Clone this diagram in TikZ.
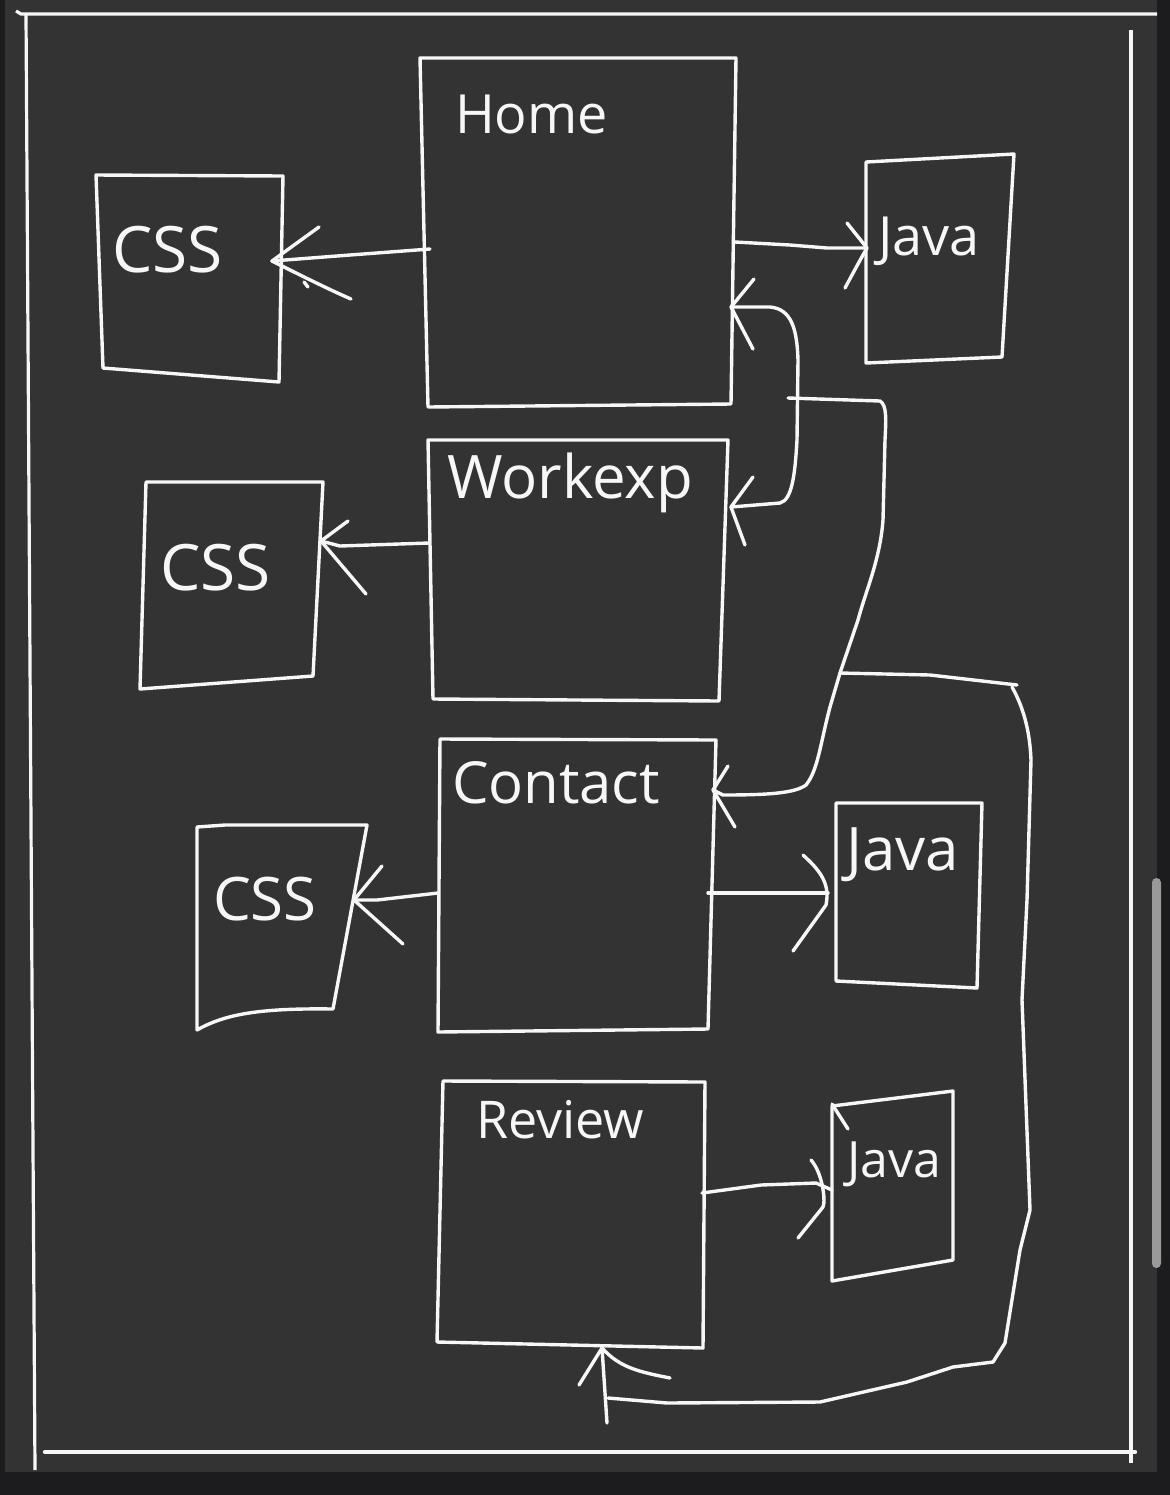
\documentclass[tikz,border=0pt]{standalone}
\usepackage{fontspec}
\setmainfont{Open Sans}
\definecolor{outerbg}{HTML}{1C1C1E}
\definecolor{panelbg}{HTML}{333333}
\definecolor{ink}{HTML}{F7F7F7}
\definecolor{scrollc}{HTML}{9A9A9A}
\begin{document}
\begin{tikzpicture}[x=0.5pt,y=-0.5pt,
  pen/.style={draw=ink, line width=1.7pt, line cap=round, line join=round},
  framepen/.style={draw=ink, line width=1.6pt},
  lbl/.style={text=ink, anchor=base west, inner sep=0pt, outer sep=0pt}]
% background
\fill[outerbg] (0,0) rectangle (1170,1495);
\fill[panelbg] (5,0) rectangle (1157,1472);
\useasboundingbox (0,0) rectangle (1170,1495);
\fill[scrollc, rounded corners=2.2pt] (1152,878) rectangle (1161,1268);
% frame
\draw[framepen] (16,11) -- (21,14) -- (1157,14);
\draw[framepen] (26,14) -- (35,1470);
\draw[framepen] (1131,30) -- (1131,1463);
\draw[draw=ink, line width=2.2pt, line cap=round] (45,1452) -- (1135,1452);

% ---- box corners ----
\coordinate (hA) at (420,58);  \coordinate (hB) at (736,58);  \coordinate (hC) at (731,404);  \coordinate (hD) at (428,407);
\coordinate (c1A) at (96,175); \coordinate (c1B) at (283,176); \coordinate (c1C) at (279,382); \coordinate (c1D) at (103,368);
\coordinate (j1A) at (866,162);\coordinate (j1B) at (1014,154);\coordinate (j1C) at (1002,357);\coordinate (j1D) at (866,363);
\coordinate (wA) at (428,440); \coordinate (wB) at (728,440); \coordinate (wC) at (719,701); \coordinate (wD) at (433,699);
\coordinate (c2A) at (146,482);\coordinate (c2B) at (323,482); \coordinate (c2C) at (313,676); \coordinate (c2D) at (140,689);
\coordinate (kA) at (440,739); \coordinate (kB) at (716,740); \coordinate (kC) at (708,1029); \coordinate (kD) at (438,1032);
\coordinate (c3A) at (197,827);\coordinate (c3B) at (367,825); \coordinate (c3C) at (333,1009); \coordinate (c3D) at (197,1030);
\coordinate (j2A) at (836,803);\coordinate (j2B) at (982,803); \coordinate (j2C) at (977,988); \coordinate (j2D) at (836,981);
\coordinate (rA) at (443,1081);\coordinate (rB) at (705,1082); \coordinate (rC) at (703,1348); \coordinate (rD) at (437,1342);
\coordinate (j3A) at (832,1106);\coordinate (j3B) at (953,1091);\coordinate (j3C) at (953,1260);\coordinate (j3D) at (832,1281);

% ---- boxes ----
\draw[pen] (hA) -- (hB) -- (hC) -- (hD) -- cycle;
\draw[pen] (c1A) -- (c1B) -- (c1C) -- (c1D) -- cycle;
\draw[pen] (j1A) -- (j1B) -- (j1C) -- (j1D) -- cycle;
\draw[pen] (wA) -- (wB) -- (wC) -- (wD) -- cycle;
\draw[pen] (c2A) -- (c2B) -- (c2C) -- (c2D) -- cycle;
\draw[pen] (kA) -- (kB) -- (kC) -- (kD) -- cycle;
\draw[pen] (c3A) -- (225,825) -- (c3B) -- (c3C) .. controls (260,1008) and (225,1014) .. (c3D) -- cycle;
\draw[pen] (j2A) -- (j2B) -- (j2C) -- (j2D) -- cycle;
\draw[pen] (rA) -- (rB) -- (rC) -- (rD) -- cycle;
\draw[pen] (j3A) -- (j3B) -- (j3C) -- (j3D) -- cycle;
\draw[pen] (j3A) ++(0,-2) -- (848,1129);

% ---- labels ----
\node[lbl, font=\fontsize{27}{27}\selectfont] (homeT) at (455,133) {Home};
\node[lbl, font=\fontsize{32}{32}\selectfont] (css1T) at (112,272) {CSS};
\node[lbl, font=\fontsize{27}{27}\selectfont] (java1T) at (878,255) {Java};
\node[lbl, font=\fontsize{30}{30}\selectfont] (workT) at (447,498) {Workexp};
\node[lbl, font=\fontsize{32}{32}\selectfont] (css2T) at (160,590) {CSS};
\node[lbl, font=\fontsize{29}{29}\selectfont] (contT) at (452,803) {Contact};
\node[lbl, font=\fontsize{30}{30}\selectfont] (css3T) at (213,920) {CSS};
\node[lbl, font=\fontsize{30}{30}\selectfont] (java2T) at (846,870) {Java};
\node[lbl, font=\fontsize{26}{26}\selectfont] (revT) at (476,1138) {Review};
\node[lbl, font=\fontsize{25}{25}\selectfont] (java3T) at (847,1177) {Java};

% ---- connector end points ----
\coordinate (homeW) at (430,249);   \coordinate (css1E) at (272,261);
\coordinate (homeE) at (735,242);   \coordinate (java1W) at (867,248);
\coordinate (homeE2) at (731,307);  \coordinate (workE) at (731,507);
\coordinate (stubA) at (788,398);   \coordinate (contE) at (713,790);
\coordinate (junc) at (840,673);    \coordinate (loopEnd) at (608,1398);
\coordinate (tailR) at (607,1423);  \coordinate (revS) at (602,1348);
\coordinate (workW) at (429,543);   \coordinate (css2E) at (321,541);
\coordinate (contW) at (438,893);   \coordinate (css3E) at (354,900);
\coordinate (contE2) at (708,893);  \coordinate (java2W) at (828,893);
\coordinate (revE) at (702,1193);   \coordinate (java3W) at (832,1190);

% 1 Home -> CSS
\draw[pen] (homeW) -- (350,255) -- (css1E);
\draw[pen] (319,227) -- (css1E) .. controls (300,275) and (330,290) .. (351,299);
\draw[pen] (304,282) -- (308,287);
% 2 Home -> Java
\draw[pen] (homeE) -- (790,245) -- (827,248) -- (java1W);
\draw[pen] (847,223) -- (java1W) .. controls (860,260) and (852,275) .. (845,288);
% 3 Home <-> Workexp
\draw[pen] (homeE2) -- (770,307) .. controls (792,309) and (797,330) .. (798,360)
  -- (797,440) .. controls (795,475) and (792,500) .. (780,503) -- (workE);
\draw[pen] (754,279) -- (homeE2) -- (753,349);
\draw[pen] (753,477) -- (workE) -- (745,545);
% 4 stub -> Contact
\draw[pen] (stubA) -- (880,401) .. controls (887,405) and (886,420) .. (885,440)
  -- (883,520) .. controls (880,560) and (866,590) .. (858,620) -- (junc)
  -- (830,707) .. controls (820,745) and (818,770) .. (806,785)
  .. controls (795,793) and (770,795) .. (723,795) -- (contE);
\draw[pen] (728,766) -- (contE) -- (735,827);
% 5 loop -> Review
\draw[pen] (junc) -- (930,675) -- (1017,685);
\draw[pen] (1012,687) .. controls (1025,710) and (1030,735) .. (1031,760)
  -- (1027,900) -- (1022,1000) -- (1030,1210) -- (1020,1250) -- (1005,1343)
  -- (993,1362) -- (953,1367) -- (907,1382) -- (820,1402) -- (667,1403)
  -- (loopEnd);
\draw[pen] (tailR) -- (revS);
\draw[pen] (579,1385) -- (revS) .. controls (620,1368) and (640,1372) .. (670,1378);
% 6 Workexp -> CSS
\draw[pen] (workW) -- (340,546) -- (css2E);
\draw[pen] (348,521) -- (css2E) -- (366,594);
% 7 Contact -> CSS
\draw[pen] (contW) -- (377,900) -- (css3E);
\draw[pen] (382,866) -- (css3E) -- (403,944);
% 8 Contact -> Java
\draw[pen] (contE2) -- (java2W);
\draw[pen] (803,855) .. controls (822,872) and (830,885) .. (826,905) -- (793,951);
% 9 Review -> Java
\draw[pen] (revE) -- (761,1185) -- (816,1183) -- (java3W);
\draw[pen] (811,1160) .. controls (822,1172) and (826,1200) .. (823,1207) -- (798,1238);
\end{tikzpicture}
\end{document}
